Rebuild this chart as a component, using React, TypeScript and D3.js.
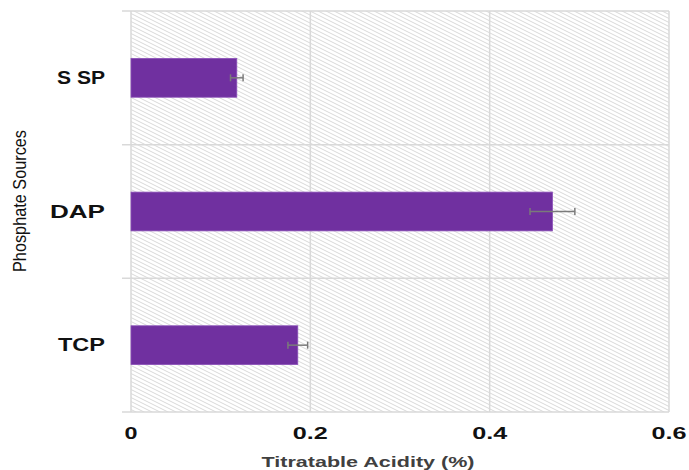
import * as d3 from 'd3';

const categories = ['SSP', 'DAP', 'TCP'];
const categoryLabels = ['S SP', 'DAP', 'TCP'];
const labelWidths = [48, 55, 47];
const values = [0.118, 0.47, 0.186];
const errors = [0.007, 0.025, 0.011];
const xTicks = [0, 0.2, 0.4, 0.6];

const width = 689;
const height = 470;
const margin = { top: 11, right: 20, bottom: 58, left: 131 };

export default function App() {
  const x = d3.scaleLinear().domain([0, 0.6]).range([margin.left, width - margin.right]);
  const y = d3
    .scaleBand()
    .domain(categories)
    .range([margin.top, height - margin.bottom])
    .paddingInner(0)
    .paddingOuter(0);
  const barH = y.bandwidth() * 0.29;
  const grid = '#d9d9d9';
  const font = 'Liberation Sans, Arial, sans-serif';

  return (
    <svg width={width} height={height} style={{ position: 'absolute', left: 0, top: 0 }}>
      <defs>
        <pattern id="hatch" width={8} height={4} patternUnits="userSpaceOnUse">
          <rect width={8} height={4} fill="#fff" />
          <path d="M0,0 L8,4 M-8,0 L8,8 M0,-4 L16,4" stroke="#d9d9d9" strokeWidth={1} />
        </pattern>
      </defs>
      <rect
        x={x(0)}
        y={margin.top}
        width={x(0.6) - x(0)}
        height={height - margin.bottom - margin.top}
        fill="url(#hatch)"
      />
      {/* gridlines */}
      {xTicks.map((t) => (
        <line key={t} x1={x(t)} x2={x(t)} y1={margin.top} y2={height - margin.bottom} stroke={grid} strokeWidth={1.5} />
      ))}
      {[...categories.map((c) => y(c)!), height - margin.bottom].map((v, i) => (
        <line key={i} x1={x(0) - 9} x2={x(0.6)} y1={v} y2={v} stroke={grid} strokeWidth={1.5} />
      ))}
      {/* bars + error bars */}
      {categories.map((c, i) => {
        const cy = y(c)! + y.bandwidth() / 2;
        return (
          <g key={c}>
            <rect x={x(0)} y={cy - barH / 2} width={x(values[i]) - x(0)} height={barH} fill="#7030a0" stroke="#8a4fb8" strokeWidth={0.8} />
            <line x1={x(values[i] - errors[i])} x2={x(values[i] + errors[i])} y1={cy} y2={cy} stroke="#7a7a7a" strokeWidth={1.5} />
            {[values[i] - errors[i], values[i] + errors[i]].map((e, j) => (
              <line key={j} x1={x(e)} x2={x(e)} y1={cy - 3.5} y2={cy + 3.5} stroke="#7a7a7a" strokeWidth={1.5} />
            ))}
            <text
              x={105}
              y={cy + 6}
              textAnchor="end"
              fontFamily={font}
              fontWeight="bold"
              fontSize={18}
              textLength={labelWidths[i]}
              lengthAdjust="spacingAndGlyphs"
              fill="#111"
            >
              {categoryLabels[i]}
            </text>
          </g>
        );
      })}
      {xTicks.map((t) => (
        <text
          key={t}
          x={x(t)}
          y={439}
          textAnchor="middle"
          fontFamily={font}
          fontWeight="bold"
          fontSize={17}
          textLength={t === 0 ? 13 : 35}
          lengthAdjust="spacingAndGlyphs"
          fill="#111"
        >
          {d3.format('')(t)}
        </text>
      ))}
      <text
        x={368}
        y={467}
        textAnchor="middle"
        fontFamily={font}
        fontWeight="bold"
        fontSize={15}
        textLength={213}
        lengthAdjust="spacingAndGlyphs"
        fill="#404040"
      >
        Titratable Acidity (%)
      </text>
      <text
        transform={`translate(26,201) rotate(-90)`}
        textAnchor="middle"
        fontFamily="Liberation Sans Narrow, Arial Narrow, sans-serif"
        fontSize={19}
        textLength={142}
        lengthAdjust="spacingAndGlyphs"
        fill="#111"
      >
        Phosphate Sources
      </text>
    </svg>
  );
}
